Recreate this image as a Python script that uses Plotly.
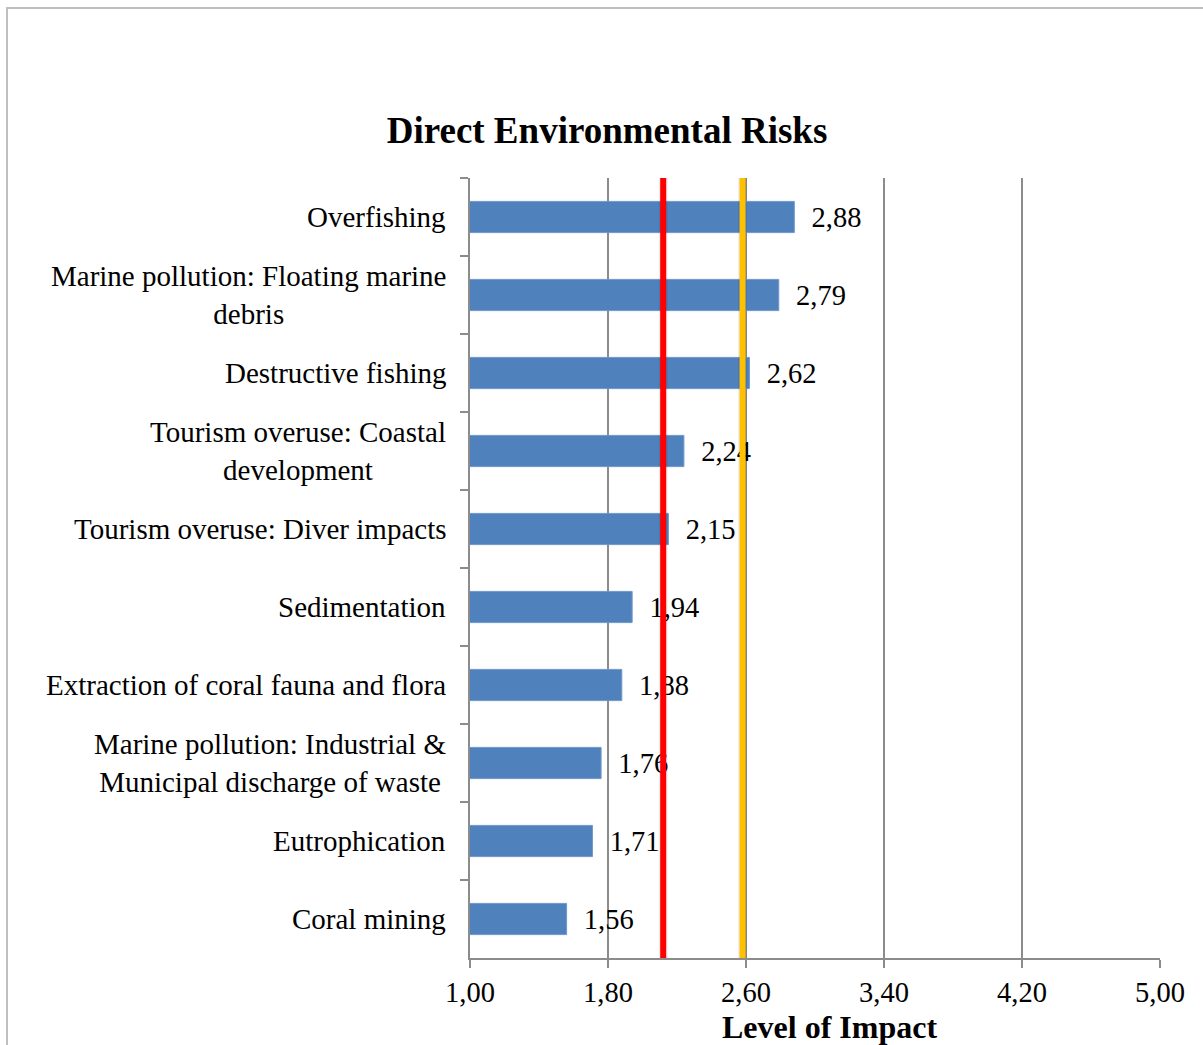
import plotly.graph_objects as go

# Risk categories, listed from top to bottom
categories = [
    "Overfishing",
    "Marine pollution: Floating marine<br>debris",
    "Destructive fishing",
    "Tourism overuse: Coastal<br>development",
    "Tourism overuse: Diver impacts",
    "Sedimentation",
    "Extraction of coral fauna and flora",
    "Marine pollution: Industrial &<br>Municipal discharge of waste",
    "Eutrophication",
    "Coral mining",
]
impact = [2.88, 2.79, 2.62, 2.24, 2.15, 1.94, 1.88, 1.76, 1.71, 1.56]

# Reference lines
red_line_value = 2.12
gold_line_value = 2.58

tick_values = [1.00, 1.80, 2.60, 3.40, 4.20, 5.00]
tick_labels = ["1,00", "1,80", "2,60", "3,40", "4,20", "5,00"]

FONT = "Liberation Serif, Times New Roman, serif"
W, H = 1203, 1045
L, R, T, B = 470, 43, 178, 87
GRID = "#8c8c8c"

labels = ["\u00a0\u00a0" + f"{v:.2f}".replace(".", ",") for v in impact]

fig = go.Figure(
    go.Bar(
        x=impact,
        y=categories,
        orientation="h",
        width=0.4,
        marker=dict(color="#4F81BD", line=dict(width=1, color="#6f98cc")),
        text=labels,
        textposition="outside",
        textfont=dict(family=FONT, size=28.5, color="black"),
        constraintext="none",
        cliponaxis=False,
        hoverinfo="skip",
    )
)

# Threshold lines with a soft shadow
for val, col in [(red_line_value, "#FF0000"), (gold_line_value, "#FFC000")]:
    fig.add_shape(type="line", xref="x", yref="paper", x0=val, x1=val, y0=0, y1=1,
                  line=dict(color="rgba(0,0,0,0.07)", width=9), layer="above")
    fig.add_shape(type="line", xref="x", yref="paper", x0=val, x1=val, y0=0, y1=1,
                  line=dict(color=col, width=6), layer="above")

# Outer chart frame
pw, ph = W - L - R, H - T - B
fig.add_shape(type="rect", xref="paper", yref="paper",
              x0=(7 - L) / pw, x1=(W + 10 - L) / pw,
              y0=-(H + 10 - (H - B)) / ph, y1=(H - B - 8) / ph,
              line=dict(color="#bfbfbf", width=2), fillcolor="rgba(0,0,0,0)", layer="below")

# Category labels, centred line by line
annotations = []
for cat in categories:
    annotations.append(dict(
        x=0, xref="paper", y=cat, yref="y", text=cat,
        xanchor="right", yanchor="middle", align="center", xshift=-22,
        showarrow=False, font=dict(family=FONT, size=29, color="black"),
    ))

# Axis title
annotations.append(dict(
    x=(829 - L) / pw, xref="paper", y=-(1027 - (H - B)) / ph, yref="paper",
    text="<b>Level of Impact</b>", xanchor="center", yanchor="middle",
    showarrow=False, font=dict(family=FONT, size=32, color="black"),
))

fig.update_layout(
    width=W, height=H,
    margin=dict(l=L, r=R, t=T, b=B),
    paper_bgcolor="white", plot_bgcolor="white",
    showlegend=False,
    title=dict(
        text="<b>Direct Environmental Risks</b>",
        x=607 / W, xref="container", xanchor="center",
        y=1 - 130 / H, yref="container", yanchor="middle",
        font=dict(family=FONT, size=37, color="black"),
    ),
    annotations=annotations,
    xaxis=dict(
        range=[1, 5], tickvals=tick_values, ticktext=tick_labels,
        showgrid=True, gridcolor=GRID, gridwidth=1.5,
        showline=True, linecolor=GRID, linewidth=1.5,
        ticks="outside", ticklen=8, tickcolor=GRID, tickwidth=1.5,
        zeroline=False,
        tickfont=dict(family=FONT, size=28.5, color="black"),
    ),
    yaxis=dict(
        type="category", autorange="reversed",
        showticklabels=False, showgrid=False,
        showline=True, linecolor=GRID, linewidth=1.5,
        ticks="outside", ticklen=8, tickcolor=GRID, tickwidth=1.5,
        tickson="boundaries",
    ),
)

fig.write_html("out.html")
